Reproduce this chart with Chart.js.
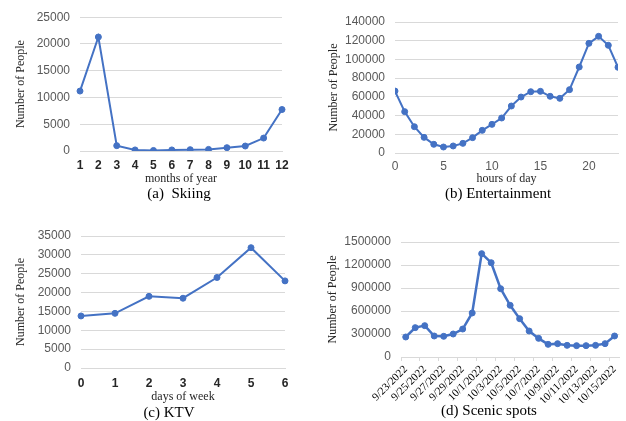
<!DOCTYPE html>
<html lang="en">

<head>
    <meta charset="UTF-8">
    <title>Number of People</title>
    <script src="https://cdn.jsdelivr.net/npm/chart.js"></script>
    <style>
        body { margin: 0; background: #ffffff; overflow: hidden; }
        .painel { position: absolute; }
        .legenda {
            position: absolute;
            width: 200px;
            height: 18px;
            line-height: 18px;
            text-align: center;
            white-space: pre;
            color: #000000;
            font: 15px 'Liberation Serif', 'Times New Roman', serif;
        }
    </style>
</head>

<body>
    <canvas id="chartA" class="painel" style="left:0px;top:0px" width="313" height="210"></canvas>
    <canvas id="chartB" class="painel" style="left:313px;top:0px" width="313" height="210"></canvas>
    <canvas id="chartC" class="painel" style="left:0px;top:210px" width="313" height="211"></canvas>
    <canvas id="chartD" class="painel" style="left:313px;top:210px" width="313" height="211"></canvas>

    <!-- captions under each panel -->
    <div class="legenda" style="left:79px;top:185px">(a)  Skiing</div>
    <div class="legenda" style="left:398px;top:185px">(b) Entertainment</div>
    <div class="legenda" style="left:69px;top:404px">(c) KTV</div>
    <div class="legenda" style="left:389px;top:402px">(d) Scenic spots</div>

<script>
    // (a) skiing, by month
    const meses = ['1', '2', '3', '4', '5', '6', '7', '8', '9', '10', '11', '12'];
    const esqui = [11200, 21300, 1000, 200, 100, 200, 250, 300, 620, 930, 2420, 7750];

    // (b) entertainment, by hour
    const horas = [0, 1, 2, 3, 4, 5, 6, 7, 8, 9, 10, 11, 12, 13, 14, 15, 16, 17, 18, 19, 20, 21, 22, 23];
    const entretenimento = [66200, 44200, 28100, 16700, 9300, 6400, 7500, 10300, 16400, 24200, 30600, 37400,
        50200, 59800, 65500, 65900, 60600, 58400, 67700, 91900, 117200, 124700, 115100, 91600];

    // (c) KTV, by day of week
    const dias = ['0', '1', '2', '3', '4', '5', '6'];
    const ktv = [13800, 14500, 19000, 18500, 24000, 31900, 23100];

    // (d) scenic spots, by date
    const datas = ['9/23/2022', '9/24/2022', '9/25/2022', '9/26/2022', '9/27/2022', '9/28/2022', '9/29/2022',
        '9/30/2022', '10/1/2022', '10/2/2022', '10/3/2022', '10/4/2022', '10/5/2022', '10/6/2022', '10/7/2022',
        '10/8/2022', '10/9/2022', '10/10/2022', '10/11/2022', '10/12/2022', '10/13/2022', '10/14/2022', '10/15/2022'];
    const pontosTuristicos = [261000, 383000, 409000, 274000, 270000, 300000, 365000, 574000, 1348000, 1230000,
        891000, 674000, 500000, 339000, 243000, 165000, 174000, 152000, 148000, 148000, 152000, 174000, 274000];

    const SANS = "'Liberation Sans', Arial, sans-serif";
    const SERIF = "'Liberation Serif', 'Times New Roman', serif";
    const AZUL = '#4472C4';
    const GRADE = '#d9d9d9';

    function serie(valores, espessura) {
        return {
            data: valores,
            borderColor: AZUL,
            backgroundColor: AZUL,
            borderWidth: espessura,
            pointRadius: 3,
            pointBorderWidth: 1,
            tension: 0,
        };
    }

    function eixoY(max, passo, largura, recuoTitulo) {
        return {
            min: 0,
            max: max,
            afterFit: (scale) => { scale.width = largura; },
            grid: { color: GRADE, drawTicks: false },
            border: { display: false },
            ticks: {
                stepSize: passo,
                padding: 10,
                color: '#595959',
                font: { family: SANS, size: 12 },
                callback: (valor) => String(valor),
            },
            title: {
                display: true,
                text: 'Number of People',
                color: '#262626',
                padding: { top: recuoTitulo, bottom: 0 },
                font: { family: SERIF, size: 12 },
            },
        };
    }

    function tituloX(texto, recuo) {
        return {
            display: true,
            text: texto,
            color: '#262626',
            padding: { top: recuo, bottom: 0 },
            font: { family: SERIF, size: 12 },
        };
    }

    const semLegenda = {
        legend: { display: false },
        tooltip: { enabled: false },
    };

    // (a)
    new Chart(document.getElementById('chartA'), {
        type: 'line',
        data: { labels: meses, datasets: [serie(esqui, 2)] },
        options: {
            responsive: false,
            animation: false,
            layout: { padding: { left: 0, top: 17, right: 31, bottom: 24.25 } },
            plugins: semLegenda,
            scales: {
                x: {
                    afterFit: (scale) => { scale.height = 34.75; },
                    grid: { display: false, drawTicks: false },
                    border: { color: GRADE },
                    ticks: {
                        autoSkip: false,
                        maxRotation: 0,
                        padding: 7,
                        color: '#262626',
                        font: { family: SANS, size: 12, weight: 'bold' },
                    },
                    title: tituloX('months of year', 0),
                },
                y: eixoY(25000, 5000, 80, 14),
            },
        },
    });

    // (b)
    new Chart(document.getElementById('chartB'), {
        type: 'line',
        data: {
            datasets: [serie(horas.map((h, i) => ({ x: h, y: entretenimento[i] })), 2)]
        },
        options: {
            responsive: false,
            animation: false,
            layout: { padding: { left: 0, top: 22, right: 8, bottom: 24.25 } },
            plugins: semLegenda,
            scales: {
                x: {
                    type: 'linear',
                    min: 0,
                    max: 23,
                    afterFit: (scale) => { scale.height = 32.75; },
                    grid: { display: false, drawTicks: false },
                    border: { color: GRADE },
                    ticks: {
                        stepSize: 5,
                        includeBounds: false,
                        maxRotation: 0,
                        padding: 6,
                        color: '#595959',
                        font: { family: SANS, size: 12 },
                    },
                    title: tituloX('hours of day', -2.4),
                },
                y: eixoY(140000, 20000, 82, 14),
            },
        },
    });

    // (c)
    new Chart(document.getElementById('chartC'), {
        type: 'line',
        data: { labels: dias, datasets: [serie(ktv, 2)] },
        options: {
            responsive: false,
            animation: false,
            layout: { padding: { left: 0, top: 26, right: 28, bottom: 16.5 } },
            plugins: semLegenda,
            scales: {
                x: {
                    afterFit: (scale) => { scale.height = 36.5; },
                    grid: { display: false, drawTicks: false },
                    border: { color: GRADE },
                    ticks: {
                        autoSkip: false,
                        maxRotation: 0,
                        padding: 8,
                        color: '#262626',
                        font: { family: SANS, size: 12, weight: 'bold' },
                    },
                    title: tituloX('days of week', 1.3),
                },
                y: eixoY(35000, 5000, 81, 14),
            },
        },
    });

    // (d)
    new Chart(document.getElementById('chartD'), {
        type: 'line',
        data: { labels: datas, datasets: [serie(pontosTuristicos, 2.5)] },
        options: {
            responsive: false,
            animation: false,
            layout: { padding: { left: 0, top: 32, right: 3, bottom: 18.25 } },
            plugins: semLegenda,
            scales: {
                x: {
                    offset: true,
                    afterFit: (scale) => { scale.height = 45.75; },
                    grid: {
                        offset: true,
                        drawOnChartArea: false,
                        tickLength: 4,
                        color: (ctx) => (ctx.index % 2 === 0 ? GRADE : 'rgba(0,0,0,0)'),
                    },
                    border: { color: GRADE },
                    ticks: {
                        autoSkip: false,
                        minRotation: 45,
                        maxRotation: 45,
                        padding: 2,
                        color: '#000000',
                        font: { family: SERIF, size: 11 },
                        callback: function (valor, indice) {
                            return indice % 2 === 0 ? this.getLabelForValue(valor) : '';
                        },
                    },
                },
                y: eixoY(1500000, 300000, 88, 13),
            },
        },
    });
</script>
</body>

</html>
